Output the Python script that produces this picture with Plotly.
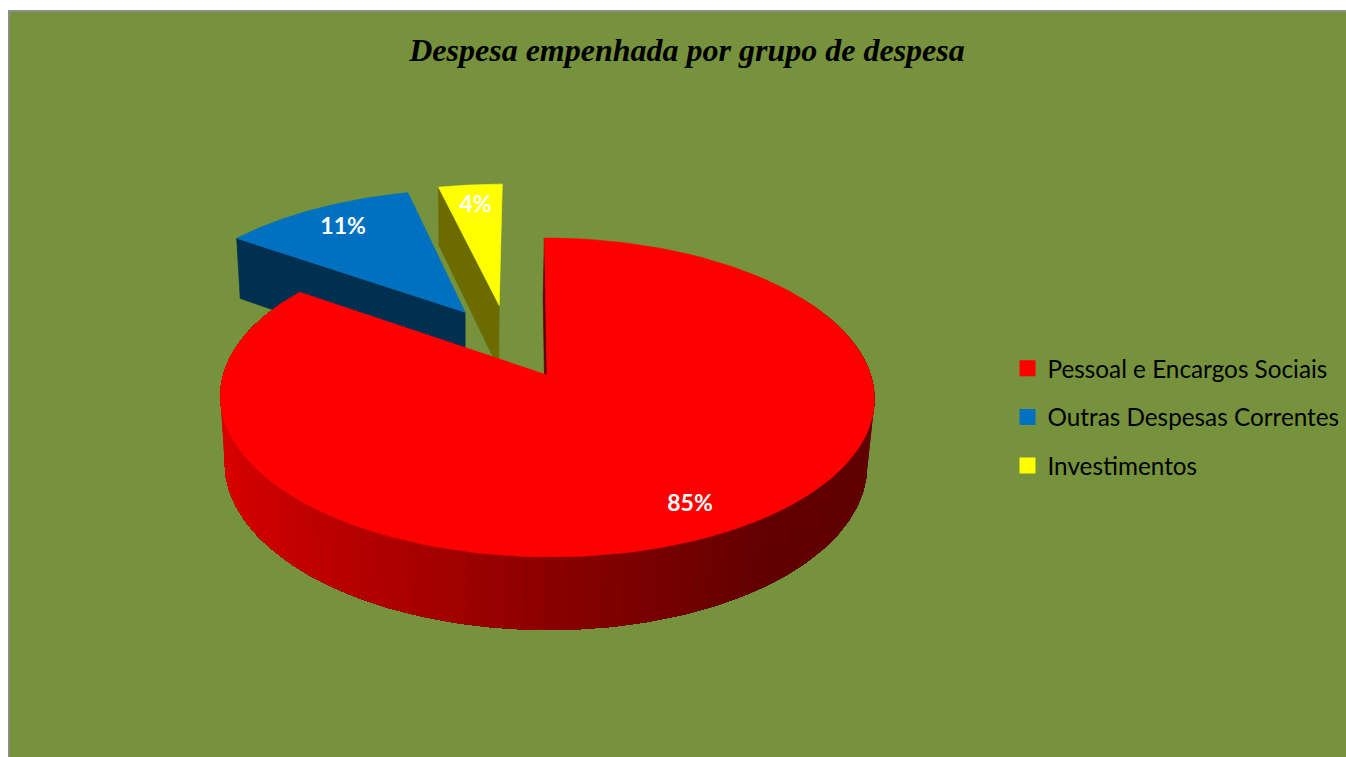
import numpy as np
import plotly.graph_objects as go

# ---- data -------------------------------------------------------------
TITLE = "Despesa empenhada por grupo de despesa"
CATEGORIES = ["Pessoal e Encargos Sociais", "Outras Despesas Correntes", "Investimentos"]
VALUES = [84.7, 11.49, 3.81]
COLORS = ["#FF0000", "#0070C0", "#FFFF00"]
FACE_COLORS = ["#5a0000", "#002F50", "#6B6B00"]

# ---- 3-D pie geometry (axis units = screen pixels) ---------------------
EXPLODE_X = [0.0, -0.264, -0.153]
EXPLODE_Y = [0.0, 0.425, 0.475]
LABEL_R = [0.84, 0.80, 0.80]
X0, Y0 = 547.0, 375.0
A, B, C = 323.8, 156.3, 67.3
K, M = 0.141, -0.018
S, SZ = 3.0, 1.5
BG = "#76923C"
BORDER = "#8C8C8C"
FONT = "Lato"
FIG_W, FIG_H = 1346, 757


def project(X, Y, Z=0.0):
    X, Y = np.asarray(X, float), np.asarray(Y, float)
    w = 1 + K * Y + M * Z
    return X0 + (A * X - S * Y + SZ * Z) / w, Y0 - (B * Y + C * Z) / w


def polar(theta_deg, r=1.0):
    t = np.radians(theta_deg)
    return r * np.sin(t), r * np.cos(t)


def poly(X, Y, Z, color, lw=0.6):
    sx, sy = project(X, Y, Z)
    return go.Scatter(x=np.append(sx, sx[0]), y=np.append(sy, sy[0]), mode="lines",
                      fill="toself", fillcolor=color,
                      line=dict(color=color, width=lw),
                      hoverinfo="skip", showlegend=False)


def wall_color(u):
    return "rgb(%d,0,0)" % round(np.interp(u, [-1, 0, 0.62, 1], [218, 139, 96, 96]))


total = sum(VALUES)
edges = np.concatenate([[0], np.cumsum(VALUES)]) * 360.0 / total
fig = go.Figure()


def top(i):
    a = np.linspace(edges[i], edges[i + 1], 160)
    x, y = polar(a)
    dx, dy = EXPLODE_X[i], EXPLODE_Y[i]
    return poly(np.r_[dx, x + dx], np.r_[dy, y + dy], 0.0, COLORS[i])


def face(i, theta):
    x, y = polar(theta)
    dx, dy = EXPLODE_X[i], EXPLODE_Y[i]
    return poly([dx, x + dx, x + dx, dx], [dy, y + dy, y + dy, dy], np.array([0, 0, -1, -1.0]), FACE_COLORS[i])


# exploded slices: cut faces, then top faces
fig.add_trace(face(1, edges[1]))
fig.add_trace(face(2, edges[2]))
fig.add_trace(top(1))
fig.add_trace(top(2))

# gradient outer wall of the large slice, painted back to front without seams
WALL_END = 300.0
for a0 in np.arange(58.0, WALL_END, 3.0):
    a = np.arange(a0, WALL_END + 0.5, 1.0)
    x, y = polar(a)
    fig.add_trace(poly(np.r_[x, x[::-1]], np.r_[y, y[::-1]],
                       np.r_[np.zeros(len(a)), -np.ones(len(a))],
                       wall_color(np.sin(np.radians(a0 + 1.5))), lw=0))
# inner cut face of the large slice, seen edge-on
fig.add_trace(face(0, 0.0))
fig.add_trace(top(0))

# data labels
lx, ly, lt = [], [], []
for i, v in enumerate(VALUES):
    x, y = polar((edges[i] + edges[i + 1]) / 2, LABEL_R[i])
    sx, sy = project(x + EXPLODE_X[i], y + EXPLODE_Y[i])
    lx.append(float(sx)); ly.append(float(sy)); lt.append(f"{v:.0f}%")
fig.add_trace(go.Scatter(x=lx, y=ly, text=lt, mode="text", hoverinfo="skip", showlegend=False,
                         textfont=dict(family=FONT, size=23, color="white", weight="bold")))

# legend entries
for name, col in zip(CATEGORIES, COLORS):
    fig.add_trace(go.Scatter(x=[None], y=[None], mode="markers", name=name, legendgroup=name,
                             marker=dict(symbol="square", size=16, color=col)))

fig.update_layout(
    width=FIG_W, height=FIG_H, autosize=False,
    margin=dict(l=10, r=0, t=12, b=0),
    paper_bgcolor="white", plot_bgcolor=BG,
    title=dict(text=f"<b><i>{TITLE}</i></b>", x=687 / FIG_W, y=1 - 50 / FIG_H,
               xanchor="center", yanchor="middle",
               font=dict(family="Liberation Serif", size=32, color="black")),
    xaxis=dict(range=[10, 1346], visible=True, side="top", showgrid=False, zeroline=False,
               showticklabels=False, ticks="", showline=True, linecolor=BORDER, linewidth=2),
    yaxis=dict(range=[757, 12], visible=True, showgrid=False, zeroline=False,
               showticklabels=False, ticks="", showline=True, linecolor=BORDER, linewidth=2),
    legend=dict(x=(1007.5 - 10) / 1336, y=1 - (346 - 12) / 745, xanchor="left", yanchor="top",
                font=dict(family=FONT, size=24.3, color="black"), bgcolor="rgba(0,0,0,0)",
                tracegroupgap=14, itemwidth=30),
)
fig.write_html("out.html", config=dict(displayModeBar=False),
               post_script="document.body.style.margin='0';")
